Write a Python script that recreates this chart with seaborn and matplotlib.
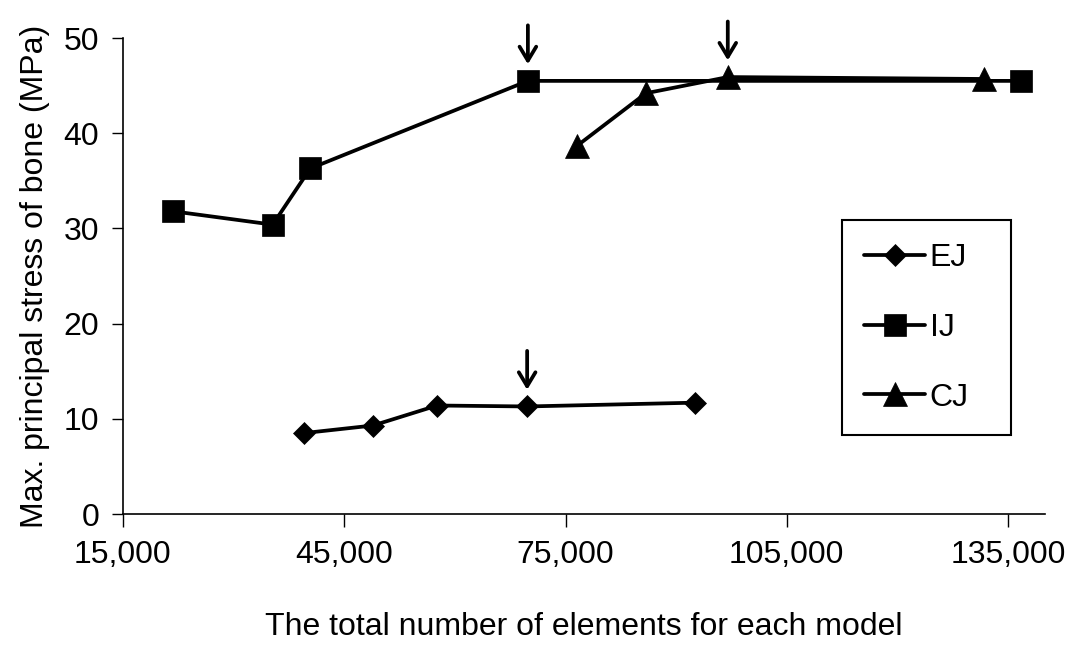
import matplotlib
matplotlib.use("Agg")
import matplotlib.pyplot as plt
import seaborn as sns
import pandas as pd

# ---- data ----
ej_x = [39500, 48900, 57600, 69800, 92600]
ej_y = [8.5, 9.3, 11.4, 11.3, 11.7]
ij_x = [21800, 35300, 40400, 69900, 136800]
ij_y = [31.8, 30.4, 36.3, 45.5, 45.5]
cj_x = [76600, 85900, 97000, 131700]
cj_y = [38.7, 44.2, 45.9, 45.7]
series_names = ["EJ", "IJ", "CJ"]
# arrows mark the chosen mesh for each model: (series, point index)
arrow_marks = [("EJ", 3), ("IJ", 3), ("CJ", 2)]
x_ticks = [15000, 45000, 75000, 105000, 135000]
x_tick_labels = [f"{v:,}" for v in x_ticks]
y_ticks = [0, 10, 20, 30, 40, 50]
x_label = "The total number of elements for each model"
y_label = "Max. principal stress of bone (MPa)"

sns.set_style("ticks")
plt.rcParams["font.family"] = ["Liberation Sans", "DejaVu Sans"]
plt.rcParams["text.color"] = "black"
plt.rcParams["axes.labelcolor"] = "black"
plt.rcParams["xtick.color"] = "black"
plt.rcParams["ytick.color"] = "black"

FS = 23

fig = plt.figure(figsize=(10.69, 6.57), dpi=100)
ax = fig.add_axes([0.115, 0.2176, 0.8625, 0.7245])

data = {
    "EJ": (ej_x, ej_y),
    "IJ": (ij_x, ij_y),
    "CJ": (cj_x, cj_y),
}
markers = {"EJ": "D", "IJ": "s", "CJ": "^"}
msizes = {"EJ": 11.5, "IJ": 16, "CJ": 17.5}

for name in series_names:
    xs, ys = data[name]
    df = pd.DataFrame({"x": xs, "y": ys})
    sns.lineplot(data=df, x="x", y="y", ax=ax, color="black", linewidth=2.7,
                 marker=markers[name], markersize=msizes[name],
                 markeredgecolor="black", markeredgewidth=0.5,
                 label=name, legend=False)

for name, idx in arrow_marks:
    xs, ys = data[name]
    ax.annotate("", xy=(xs[idx], ys[idx]), xycoords="data",
                xytext=(0, 40), textcoords="offset points",
                arrowprops=dict(arrowstyle="->,head_length=0.5,head_width=0.3",
                                lw=2.7, color="black", mutation_scale=20,
                                shrinkA=0, shrinkB=12),
                annotation_clip=False)

ax.set_xlim(15000, 140000)
ax.set_ylim(0, 50)
ax.set_xticks(x_ticks)
ax.set_xticklabels(x_tick_labels)
ax.set_yticks(y_ticks)
ax.tick_params(axis="both", labelsize=FS, colors="black", width=1.0)
ax.tick_params(axis="x", length=9, pad=10)
ax.tick_params(axis="y", length=8, pad=9)
ax.set_xlabel(x_label, fontsize=FS, labelpad=30)
ax.set_ylabel(y_label, fontsize=FS, labelpad=10)
sns.despine(ax=ax)
for sp in ("left", "bottom"):
    ax.spines[sp].set_color("black")
    ax.spines[sp].set_linewidth(1.2)

leg = ax.legend(loc="upper left",
                bbox_to_anchor=(842 / 1069, 1 - 227 / 657, 169 / 1069, 0.01),
                bbox_transform=fig.transFigure, mode="expand",
                fontsize=FS, frameon=True, fancybox=False, shadow=False,
                borderpad=0.7, labelspacing=1.25, handlelength=1.9,
                handletextpad=0.15, borderaxespad=0)
leg.get_frame().set_edgecolor("black")
leg.get_frame().set_linewidth(1.5)
leg.get_frame().set_alpha(1)

fig.savefig("out.png", dpi=100, facecolor="white")
